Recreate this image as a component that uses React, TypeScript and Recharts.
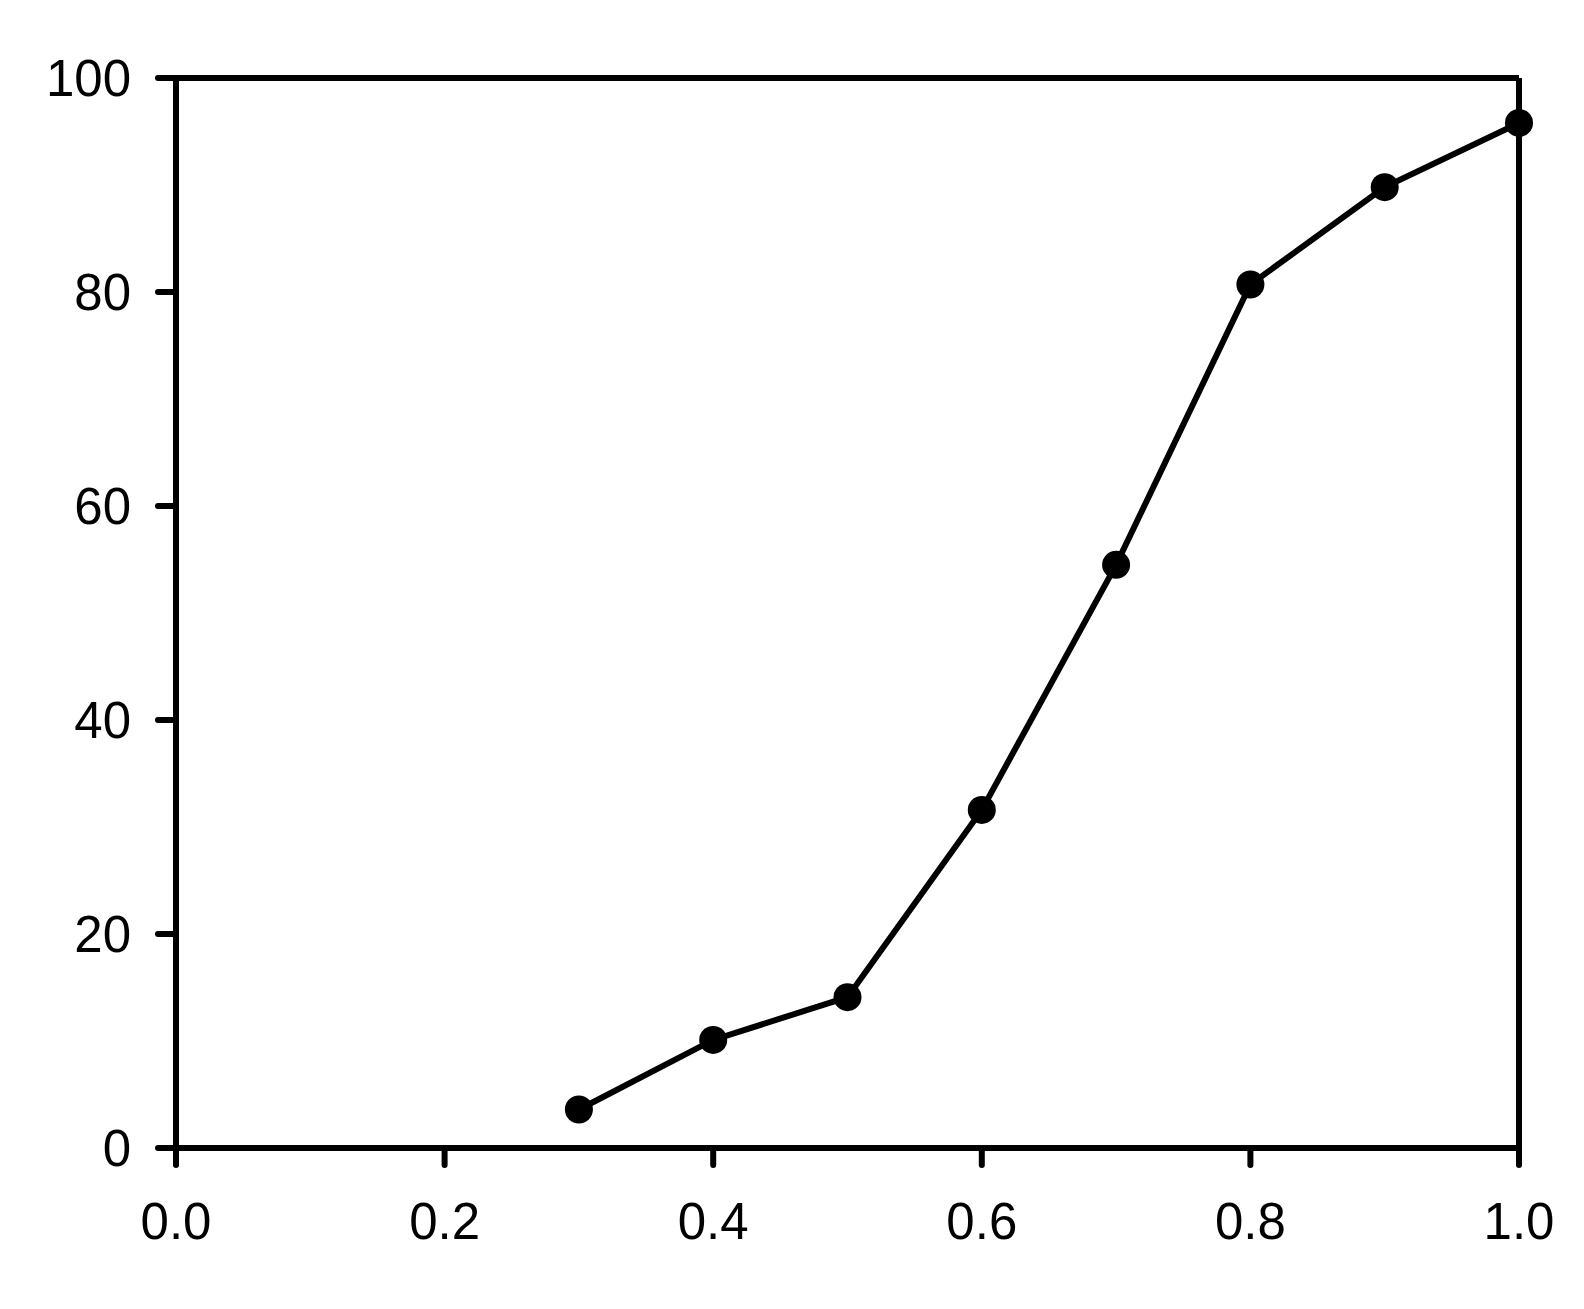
import { LineChart, Line, XAxis, YAxis, ReferenceLine } from 'recharts'

const xValues = [0.3, 0.4, 0.5, 0.6, 0.7, 0.8, 0.9, 1.0]
const yValues = [3.6, 10.1, 14.1, 31.6, 54.5, 80.7, 89.8, 95.8]
const xTicks = [0, 0.2, 0.4, 0.6, 0.8, 1.0]
const yTicks = [0, 20, 40, 60, 80, 100]

const data = xValues.map((x, i) => ({ x, y: yValues[i] }))

const axisStyle = { stroke: '#000', strokeWidth: 6, strokeLinecap: 'round' as const }
const tickFont = { fontSize: 51, fill: '#000', fontFamily: '"Liberation Sans", Arial, sans-serif' }

export default function App() {
  return (
    <div style={{ position: 'absolute', left: 0, top: 0, background: '#fff' }}>
      <LineChart
        width={1584}
        height={1309}
        data={data}
        margin={{ top: 78, right: 65, bottom: 61, left: 0 }}
      >
        <XAxis
          dataKey="x"
          type="number"
          domain={[0, 1]}
          ticks={xTicks}
          tickFormatter={(v: number) => v.toFixed(1)}
          axisLine={axisStyle}
          tickLine={axisStyle}
          tickSize={17}
          tickMargin={38}
          tick={tickFont}
          height={100}
          interval={0}
        />
        <YAxis
          type="number"
          domain={[0, 100]}
          ticks={yTicks}
          axisLine={axisStyle}
          tickLine={axisStyle}
          tickSize={18}
          tickMargin={27}
          tick={tickFont}
          width={176}
          interval={0}
        />
        <ReferenceLine y={100} stroke="#000" strokeWidth={6} />
        <ReferenceLine x={1} stroke="#000" strokeWidth={6} />
        <Line
          dataKey="y"
          stroke="#000"
          strokeWidth={6}
          dot={{ r: 14, fill: '#000', stroke: 'none' }}
          activeDot={false}
          isAnimationActive={false}
        />
      </LineChart>
    </div>
  )
}
